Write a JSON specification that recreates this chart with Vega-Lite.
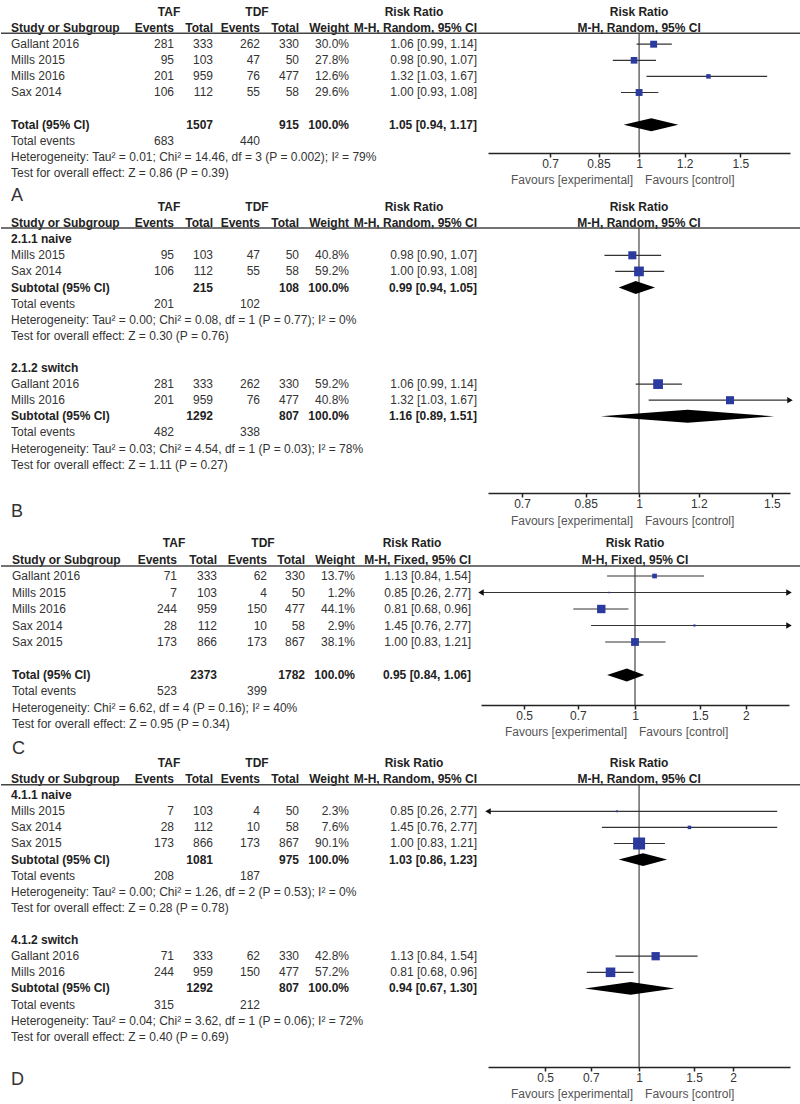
{
"$schema":"https://vega.github.io/schema/vega-lite/v6.json",
"padding":0,
"spacing":0,
"bounds":"flush",
"config":{"view":{"stroke":null},"text":{"font":"Liberation Sans","fontSize":12,"baseline":"middle"},"axis":{"labelFont":"Liberation Sans"}},
"datasets":{
"A":[
{"row":0,"kind":"group","taf":"TAF","tdf":"TDF","rrh":"Risk Ratio","plot":"Risk Ratio"},
{"row":1,"kind":"header","label":"Study or Subgroup","tafE":"Events","tafT":"Total","tdfE":"Events","tdfT":"Total","weight":"Weight","ci":"M-H, Random, 95% CI","plot":"M-H, Random, 95% CI"},
{"row":2,"kind":"study","label":"Gallant 2016","tafE":281,"tafT":333,"tdfE":262,"tdfT":330,"weight":"30.0%","w":30.0,"ci":"1.06 [0.99, 1.14]","rr":1.06,"lo":0.99,"hi":1.14},
{"row":3,"kind":"study","label":"Mills 2015","tafE":95,"tafT":103,"tdfE":47,"tdfT":50,"weight":"27.8%","w":27.8,"ci":"0.98 [0.90, 1.07]","rr":0.98,"lo":0.90,"hi":1.07},
{"row":4,"kind":"study","label":"Mills 2016","tafE":201,"tafT":959,"tdfE":76,"tdfT":477,"weight":"12.6%","w":12.6,"ci":"1.32 [1.03, 1.67]","rr":1.32,"lo":1.03,"hi":1.67},
{"row":5,"kind":"study","label":"Sax 2014","tafE":106,"tafT":112,"tdfE":55,"tdfT":58,"weight":"29.6%","w":29.6,"ci":"1.00 [0.93, 1.08]","rr":1.00,"lo":0.93,"hi":1.08},
{"row":7,"kind":"total","label":"Total (95% CI)","tafT":1507,"tdfT":915,"weight":"100.0%","w":100,"ci":"1.05 [0.94, 1.17]","rr":1.05,"lo":0.94,"hi":1.17},
{"row":8,"kind":"events","label":"Total events","tafE":683,"tdfE":440},
{"row":9,"kind":"note","label":"Heterogeneity: Tau² = 0.01; Chi² = 14.46, df = 3 (P = 0.002); I² = 79%"},
{"row":10,"kind":"note","label":"Test for overall effect: Z = 0.86 (P = 0.39)"}
],
"B":[
{"row":0,"kind":"group","taf":"TAF","tdf":"TDF","rrh":"Risk Ratio","plot":"Risk Ratio"},
{"row":1,"kind":"header","label":"Study or Subgroup","tafE":"Events","tafT":"Total","tdfE":"Events","tdfT":"Total","weight":"Weight","ci":"M-H, Random, 95% CI","plot":"M-H, Random, 95% CI"},
{"row":2,"kind":"subgroup","label":"2.1.1 naive"},
{"row":3,"kind":"study","label":"Mills 2015","tafE":95,"tafT":103,"tdfE":47,"tdfT":50,"weight":"40.8%","w":40.8,"ci":"0.98 [0.90, 1.07]","rr":0.98,"lo":0.90,"hi":1.07},
{"row":4,"kind":"study","label":"Sax 2014","tafE":106,"tafT":112,"tdfE":55,"tdfT":58,"weight":"59.2%","w":59.2,"ci":"1.00 [0.93, 1.08]","rr":1.00,"lo":0.93,"hi":1.08},
{"row":5,"kind":"total","label":"Subtotal (95% CI)","tafT":215,"tdfT":108,"weight":"100.0%","w":100,"ci":"0.99 [0.94, 1.05]","rr":0.99,"lo":0.94,"hi":1.05},
{"row":6,"kind":"events","label":"Total events","tafE":201,"tdfE":102},
{"row":7,"kind":"note","label":"Heterogeneity: Tau² = 0.00; Chi² = 0.08, df = 1 (P = 0.77); I² = 0%"},
{"row":8,"kind":"note","label":"Test for overall effect: Z = 0.30 (P = 0.76)"},
{"row":10,"kind":"subgroup","label":"2.1.2 switch"},
{"row":11,"kind":"study","label":"Gallant 2016","tafE":281,"tafT":333,"tdfE":262,"tdfT":330,"weight":"59.2%","w":59.2,"ci":"1.06 [0.99, 1.14]","rr":1.06,"lo":0.99,"hi":1.14},
{"row":12,"kind":"study","label":"Mills 2016","tafE":201,"tafT":959,"tdfE":76,"tdfT":477,"weight":"40.8%","w":40.8,"ci":"1.32 [1.03, 1.67]","rr":1.32,"lo":1.03,"hi":1.67},
{"row":13,"kind":"total","label":"Subtotal (95% CI)","tafT":1292,"tdfT":807,"weight":"100.0%","w":100,"ci":"1.16 [0.89, 1.51]","rr":1.16,"lo":0.89,"hi":1.51},
{"row":14,"kind":"events","label":"Total events","tafE":482,"tdfE":338},
{"row":15,"kind":"note","label":"Heterogeneity: Tau² = 0.03; Chi² = 4.54, df = 1 (P = 0.03); I² = 78%"},
{"row":16,"kind":"note","label":"Test for overall effect: Z = 1.11 (P = 0.27)"}
],
"C":[
{"row":0,"kind":"group","taf":"TAF","tdf":"TDF","rrh":"Risk Ratio","plot":"Risk Ratio"},
{"row":1,"kind":"header","label":"Study or Subgroup","tafE":"Events","tafT":"Total","tdfE":"Events","tdfT":"Total","weight":"Weight","ci":"M-H, Fixed, 95% CI","plot":"M-H, Fixed, 95% CI"},
{"row":2,"kind":"study","label":"Gallant 2016","tafE":71,"tafT":333,"tdfE":62,"tdfT":330,"weight":"13.7%","w":13.7,"ci":"1.13 [0.84, 1.54]","rr":1.13,"lo":0.84,"hi":1.54},
{"row":3,"kind":"study","label":"Mills 2015","tafE":7,"tafT":103,"tdfE":4,"tdfT":50,"weight":"1.2%","w":1.2,"ci":"0.85 [0.26, 2.77]","rr":0.85,"lo":0.26,"hi":2.77},
{"row":4,"kind":"study","label":"Mills 2016","tafE":244,"tafT":959,"tdfE":150,"tdfT":477,"weight":"44.1%","w":44.1,"ci":"0.81 [0.68, 0.96]","rr":0.81,"lo":0.68,"hi":0.96},
{"row":5,"kind":"study","label":"Sax 2014","tafE":28,"tafT":112,"tdfE":10,"tdfT":58,"weight":"2.9%","w":2.9,"ci":"1.45 [0.76, 2.77]","rr":1.45,"lo":0.76,"hi":2.77},
{"row":6,"kind":"study","label":"Sax 2015","tafE":173,"tafT":866,"tdfE":173,"tdfT":867,"weight":"38.1%","w":38.1,"ci":"1.00 [0.83, 1.21]","rr":1.00,"lo":0.83,"hi":1.21},
{"row":8,"kind":"total","label":"Total (95% CI)","tafT":2373,"tdfT":1782,"weight":"100.0%","w":100,"ci":"0.95 [0.84, 1.06]","rr":0.95,"lo":0.84,"hi":1.06},
{"row":9,"kind":"events","label":"Total events","tafE":523,"tdfE":399},
{"row":10,"kind":"note","label":"Heterogeneity: Chi² = 6.62, df = 4 (P = 0.16); I² = 40%"},
{"row":11,"kind":"note","label":"Test for overall effect: Z = 0.95 (P = 0.34)"}
],
"D":[
{"row":0,"kind":"group","taf":"TAF","tdf":"TDF","rrh":"Risk Ratio","plot":"Risk Ratio"},
{"row":1,"kind":"header","label":"Study or Subgroup","tafE":"Events","tafT":"Total","tdfE":"Events","tdfT":"Total","weight":"Weight","ci":"M-H, Random, 95% CI","plot":"M-H, Random, 95% CI"},
{"row":2,"kind":"subgroup","label":"4.1.1 naive"},
{"row":3,"kind":"study","label":"Mills 2015","tafE":7,"tafT":103,"tdfE":4,"tdfT":50,"weight":"2.3%","w":2.3,"ci":"0.85 [0.26, 2.77]","rr":0.85,"lo":0.26,"hi":2.77},
{"row":4,"kind":"study","label":"Sax 2014","tafE":28,"tafT":112,"tdfE":10,"tdfT":58,"weight":"7.6%","w":7.6,"ci":"1.45 [0.76, 2.77]","rr":1.45,"lo":0.76,"hi":2.77},
{"row":5,"kind":"study","label":"Sax 2015","tafE":173,"tafT":866,"tdfE":173,"tdfT":867,"weight":"90.1%","w":90.1,"ci":"1.00 [0.83, 1.21]","rr":1.00,"lo":0.83,"hi":1.21},
{"row":6,"kind":"total","label":"Subtotal (95% CI)","tafT":1081,"tdfT":975,"weight":"100.0%","w":100,"ci":"1.03 [0.86, 1.23]","rr":1.03,"lo":0.86,"hi":1.23},
{"row":7,"kind":"events","label":"Total events","tafE":208,"tdfE":187},
{"row":8,"kind":"note","label":"Heterogeneity: Tau² = 0.00; Chi² = 1.26, df = 2 (P = 0.53); I² = 0%"},
{"row":9,"kind":"note","label":"Test for overall effect: Z = 0.28 (P = 0.78)"},
{"row":11,"kind":"subgroup","label":"4.1.2 switch"},
{"row":12,"kind":"study","label":"Gallant 2016","tafE":71,"tafT":333,"tdfE":62,"tdfT":330,"weight":"42.8%","w":42.8,"ci":"1.13 [0.84, 1.54]","rr":1.13,"lo":0.84,"hi":1.54},
{"row":13,"kind":"study","label":"Mills 2016","tafE":244,"tafT":959,"tdfE":150,"tdfT":477,"weight":"57.2%","w":57.2,"ci":"0.81 [0.68, 0.96]","rr":0.81,"lo":0.68,"hi":0.96},
{"row":14,"kind":"total","label":"Subtotal (95% CI)","tafT":1292,"tdfT":807,"weight":"100.0%","w":100,"ci":"0.94 [0.67, 1.30]","rr":0.94,"lo":0.67,"hi":1.30},
{"row":15,"kind":"events","label":"Total events","tafE":315,"tdfE":212},
{"row":16,"kind":"note","label":"Heterogeneity: Tau² = 0.04; Chi² = 3.62, df = 1 (P = 0.06); I² = 72%"},
{"row":17,"kind":"note","label":"Test for overall effect: Z = 0.40 (P = 0.69)"}
]
},
"vconcat":[
{
"width":800,"height":200,
"data":{"name":"A"},
"resolve":{"scale":{"x":"independent"}},
"layer":[
{"transform":[{"fold":["label","tafE","tafT","tdfE","tdfT","weight","ci"],"as":["key","val"]},{"filter":"isValid(datum.val)"},{"calculate":"indexof(['label','tafE','tafT','tdfE','tdfT','weight','ci'],datum.key)","as":"col"},{"calculate":"indexof(['header','total','subgroup'],datum.kind)>=0","as":"bold"}],
"encoding":{"x":{"field":"col","type":"quantitative","scale":{"domain":[0,1,2,3,4,5,6],"range":[10,173,212,259,298,348,476],"nice":false,"zero":false},"axis":null},"y":{"field":"row","type":"quantitative","scale":{"domain":[-0.745,11.677],"reverse":true,"nice":false,"zero":false},"axis":null},"text":{"field":"val","type":"nominal"}},
"layer":[
{"transform":[{"filter":"datum.col==0 && !datum.bold"}],"mark":{"type":"text","align":"left","color":"#333"}},
{"transform":[{"filter":"datum.col==0 && datum.bold"}],"mark":{"type":"text","align":"left","fontWeight":"bold","color":"#222"}},
{"transform":[{"filter":"datum.col>0 && !datum.bold"}],"mark":{"type":"text","align":"right","color":"#333"}},
{"transform":[{"filter":"datum.col>0 && datum.bold"}],"mark":{"type":"text","align":"right","fontWeight":"bold","color":"#222"}}
]},
{"transform":[{"fold":["taf","tdf","rrh"],"as":["key","val"]},{"filter":"isValid(datum.val)"},{"calculate":"indexof(['taf','tdf','rrh'],datum.key)","as":"g"}],
"mark":{"type":"text","align":"center","fontWeight":"bold","color":"#222"},
"encoding":{"x":{"field":"g","type":"quantitative","scale":{"domain":[0,1,2],"range":[168,256,413],"nice":false,"zero":false},"axis":null},"y":{"field":"row","type":"quantitative","scale":{"domain":[-0.745,11.677],"reverse":true,"nice":false,"zero":false},"axis":null},"text":{"field":"val","type":"nominal"}}},
{"data":{"values":[{"t":"A"}]},"mark":{"type":"text","align":"left","fontSize":18,"color":"#333"},
"encoding":{"x":{"datum":0,"type":"quantitative","scale":{"domain":[0,1,2,3,4,5,6],"range":[10,173,212,259,298,348,476],"nice":false,"zero":false},"axis":null},"y":{"datum":11.45,"type":"quantitative","axis":null},"text":{"field":"t","type":"nominal"}}},
{"data":{"values":[{}]},"mark":{"type":"rule","color":"#444","strokeWidth":1.6},"encoding":{"y":{"datum":1.32,"type":"quantitative","axis":null}}},
{"data":{"values":[{}]},"mark":{"type":"rule","color":"#444","strokeWidth":1.2},
"encoding":{"x":{"datum":1,"type":"quantitative","scale":{"type":"log","domain":[0.546,1.83],"range":[487,789],"clamp":true,"nice":false},"axis":null},"y":{"datum":1.32,"type":"quantitative","axis":null},"y2":{"datum":8.76}}},
{"transform":[{"filter":"datum.kind=='study'"}],"mark":{"type":"rule","color":"#333","strokeWidth":1.2},
"encoding":{"x":{"field":"lo","type":"quantitative","scale":{"type":"log","domain":[0.546,1.83],"range":[487,789],"clamp":true,"nice":false},
"axis":{"orient":"bottom","values":[0.7,0.85,1,1.2,1.5],"format":"~g","title":null,"grid":false,"offset":-47,"domainColor":"#222","domainWidth":1.5,"tickColor":"#222","tickWidth":1.5,"tickSize":4,"labelFontSize":12,"labelColor":"#333","labelPadding":1,"labelFlush":false,"labelOverlap":false}},
"x2":{"field":"hi"},"y":{"field":"row","type":"quantitative","scale":{"domain":[-0.745,11.677],"reverse":true,"nice":false,"zero":false},"axis":null}}},
{"transform":[{"filter":"datum.kind=='study'"}],"mark":{"type":"point","shape":"square","filled":true,"opacity":1,"color":"#2a3a9e"},
"encoding":{"x":{"field":"rr","type":"quantitative","scale":{"type":"log","domain":[0.546,1.83],"range":[487,789],"clamp":true,"nice":false},"axis":null},"y":{"field":"row","type":"quantitative","scale":{"domain":[-0.745,11.677],"reverse":true,"nice":false,"zero":false},"axis":null},"size":{"field":"w","type":"quantitative","scale":{"domain":[0,100],"range":[0,160]},"legend":null}}},
{"transform":[{"filter":"datum.kind=='total'"},{"fold":["lo","rr","hi"],"as":["pt","xv"]},{"calculate":"datum.pt=='rr' ? 0.4 : 0","as":"h"},{"calculate":"datum.row - datum.h","as":"ya"},{"calculate":"datum.row + datum.h","as":"yb"}],
"mark":{"type":"area","color":"#000","orient":"vertical","interpolate":"linear","opacity":1},
"encoding":{"x":{"field":"xv","type":"quantitative","scale":{"type":"log","domain":[0.546,1.83],"range":[487,789],"clamp":true,"nice":false},"axis":null},"y":{"field":"ya","type":"quantitative","axis":null},"y2":{"field":"yb"},"detail":{"field":"row","type":"nominal"}}},
{"transform":[{"filter":"isValid(datum.plot)"}],"mark":{"type":"text","align":"center","fontWeight":"bold","color":"#222"},
"encoding":{"x":{"datum":1,"type":"quantitative","scale":{"type":"log","domain":[0.546,1.83],"range":[487,789],"clamp":true,"nice":false},"axis":null},"y":{"field":"row","type":"quantitative","scale":{"domain":[-0.745,11.677],"reverse":true,"nice":false,"zero":false},"axis":null},"text":{"field":"plot","type":"nominal"}}},
{"data":{"values":[{"t":"Favours [experimental]"}]},"mark":{"type":"text","align":"right","dx":-6,"color":"#555"},
"encoding":{"x":{"datum":1,"type":"quantitative","scale":{"type":"log","domain":[0.546,1.83],"range":[487,789],"clamp":true,"nice":false},"axis":null},"y":{"datum":10.43,"type":"quantitative","axis":null},"text":{"field":"t","type":"nominal"}}},
{"data":{"values":[{"t":"Favours [control]"}]},"mark":{"type":"text","align":"left","dx":6,"color":"#555"},
"encoding":{"x":{"datum":1,"type":"quantitative","scale":{"type":"log","domain":[0.546,1.83],"range":[487,789],"clamp":true,"nice":false},"axis":null},"y":{"datum":10.43,"type":"quantitative","axis":null},"text":{"field":"t","type":"nominal"}}}
]
},
{
"width":800,"height":332,
"data":{"name":"B"},
"resolve":{"scale":{"x":"independent"}},
"layer":[
{"transform":[{"fold":["label","tafE","tafT","tdfE","tdfT","weight","ci"],"as":["key","val"]},{"filter":"isValid(datum.val)"},{"calculate":"indexof(['label','tafE','tafT','tdfE','tdfT','weight','ci'],datum.key)","as":"col"},{"calculate":"indexof(['header','total','subgroup'],datum.kind)>=0","as":"bold"}],
"encoding":{"x":{"field":"col","type":"quantitative","scale":{"domain":[0,1,2,3,4,5,6],"range":[10,173,212,259,298,348,476],"nice":false,"zero":false},"axis":null},"y":{"field":"row","type":"quantitative","scale":{"domain":[-0.435,20.186],"reverse":true,"nice":false,"zero":false},"axis":null},"text":{"field":"val","type":"nominal"}},
"layer":[
{"transform":[{"filter":"datum.col==0 && !datum.bold"}],"mark":{"type":"text","align":"left","color":"#333"}},
{"transform":[{"filter":"datum.col==0 && datum.bold"}],"mark":{"type":"text","align":"left","fontWeight":"bold","color":"#222"}},
{"transform":[{"filter":"datum.col>0 && !datum.bold"}],"mark":{"type":"text","align":"right","color":"#333"}},
{"transform":[{"filter":"datum.col>0 && datum.bold"}],"mark":{"type":"text","align":"right","fontWeight":"bold","color":"#222"}}
]},
{"transform":[{"fold":["taf","tdf","rrh"],"as":["key","val"]},{"filter":"isValid(datum.val)"},{"calculate":"indexof(['taf','tdf','rrh'],datum.key)","as":"g"}],
"mark":{"type":"text","align":"center","fontWeight":"bold","color":"#222"},
"encoding":{"x":{"field":"g","type":"quantitative","scale":{"domain":[0,1,2],"range":[168,256,413],"nice":false,"zero":false},"axis":null},"y":{"field":"row","type":"quantitative","scale":{"domain":[-0.435,20.186],"reverse":true,"nice":false,"zero":false},"axis":null},"text":{"field":"val","type":"nominal"}}},
{"data":{"values":[{"t":"B"}]},"mark":{"type":"text","align":"left","fontSize":18,"color":"#333"},
"encoding":{"x":{"datum":0,"type":"quantitative","scale":{"domain":[0,1,2,3,4,5,6],"range":[10,173,212,259,298,348,476],"nice":false,"zero":false},"axis":null},"y":{"datum":18.94,"type":"quantitative","axis":null},"text":{"field":"t","type":"nominal"}}},
{"data":{"values":[{}]},"mark":{"type":"rule","color":"#444","strokeWidth":1.6},"encoding":{"y":{"datum":1.30,"type":"quantitative","axis":null}}},
{"data":{"values":[{}]},"mark":{"type":"rule","color":"#444","strokeWidth":1.2},
"encoding":{"x":{"datum":1,"type":"quantitative","scale":{"type":"log","domain":[0.631,1.585],"range":[487,789],"clamp":true,"nice":false},"axis":null},"y":{"datum":1.30,"type":"quantitative","axis":null},"y2":{"datum":17.76}}},
{"transform":[{"filter":"datum.kind=='study'"}],"mark":{"type":"rule","color":"#333","strokeWidth":1.2},
"encoding":{"x":{"field":"lo","type":"quantitative","scale":{"type":"log","domain":[0.631,1.585],"range":[487,789],"clamp":true,"nice":false},
"axis":{"orient":"bottom","values":[0.7,0.85,1,1.2,1.5],"format":"~g","title":null,"grid":false,"offset":-39,"domainColor":"#222","domainWidth":1.5,"tickColor":"#222","tickWidth":1.5,"tickSize":4,"labelFontSize":12,"labelColor":"#333","labelPadding":1,"labelFlush":false,"labelOverlap":false}},
"x2":{"field":"hi"},"y":{"field":"row","type":"quantitative","scale":{"domain":[-0.435,20.186],"reverse":true,"nice":false,"zero":false},"axis":null}}},
{"transform":[{"filter":"datum.kind=='study'"}],"mark":{"type":"point","shape":"square","filled":true,"opacity":1,"color":"#2a3a9e"},
"encoding":{"x":{"field":"rr","type":"quantitative","scale":{"type":"log","domain":[0.631,1.585],"range":[487,789],"clamp":true,"nice":false},"axis":null},"y":{"field":"row","type":"quantitative","scale":{"domain":[-0.435,20.186],"reverse":true,"nice":false,"zero":false},"axis":null},"size":{"field":"w","type":"quantitative","scale":{"domain":[0,100],"range":[0,230]},"legend":null}}},
{"transform":[{"filter":"datum.kind=='study' && datum.hi > 1.585"}],"mark":{"type":"point","shape":"triangle-right","filled":true,"opacity":1,"color":"#111","size":40},
"encoding":{"x":{"field":"hi","type":"quantitative","scale":{"type":"log","domain":[0.631,1.585],"range":[487,789],"clamp":true,"nice":false},"axis":null},"y":{"field":"row","type":"quantitative","scale":{"domain":[-0.435,20.186],"reverse":true,"nice":false,"zero":false},"axis":null}}},
{"transform":[{"filter":"datum.kind=='total'"},{"fold":["lo","rr","hi"],"as":["pt","xv"]},{"calculate":"datum.pt=='rr' ? 0.4 : 0","as":"h"},{"calculate":"datum.row - datum.h","as":"ya"},{"calculate":"datum.row + datum.h","as":"yb"}],
"mark":{"type":"area","color":"#000","orient":"vertical","interpolate":"linear","opacity":1},
"encoding":{"x":{"field":"xv","type":"quantitative","scale":{"type":"log","domain":[0.631,1.585],"range":[487,789],"clamp":true,"nice":false},"axis":null},"y":{"field":"ya","type":"quantitative","axis":null},"y2":{"field":"yb"},"detail":{"field":"row","type":"nominal"}}},
{"transform":[{"filter":"isValid(datum.plot)"}],"mark":{"type":"text","align":"center","fontWeight":"bold","color":"#222"},
"encoding":{"x":{"datum":1,"type":"quantitative","scale":{"type":"log","domain":[0.631,1.585],"range":[487,789],"clamp":true,"nice":false},"axis":null},"y":{"field":"row","type":"quantitative","scale":{"domain":[-0.435,20.186],"reverse":true,"nice":false,"zero":false},"axis":null},"text":{"field":"plot","type":"nominal"}}},
{"data":{"values":[{"t":"Favours [experimental]"}]},"mark":{"type":"text","align":"right","dx":-6,"color":"#555"},
"encoding":{"x":{"datum":1,"type":"quantitative","scale":{"type":"log","domain":[0.631,1.585],"range":[487,789],"clamp":true,"nice":false},"axis":null},"y":{"datum":19.5,"type":"quantitative","axis":null},"text":{"field":"t","type":"nominal"}}},
{"data":{"values":[{"t":"Favours [control]"}]},"mark":{"type":"text","align":"left","dx":6,"color":"#555"},
"encoding":{"x":{"datum":1,"type":"quantitative","scale":{"type":"log","domain":[0.631,1.585],"range":[487,789],"clamp":true,"nice":false},"axis":null},"y":{"datum":19.5,"type":"quantitative","axis":null},"text":{"field":"t","type":"nominal"}}}
]
},
{
"width":800,"height":220,
"data":{"name":"C"},
"resolve":{"scale":{"x":"independent"}},
"layer":[
{"transform":[{"fold":["label","tafE","tafT","tdfE","tdfT","weight","ci"],"as":["key","val"]},{"filter":"isValid(datum.val)"},{"calculate":"indexof(['label','tafE','tafT','tdfE','tdfT','weight','ci'],datum.key)","as":"col"},{"calculate":"indexof(['header','total','subgroup'],datum.kind)>=0","as":"bold"}],
"encoding":{"x":{"field":"col","type":"quantitative","scale":{"domain":[0,1,2,3,4,5,6],"range":[11,176,216,266,304,354,470],"nice":false,"zero":false},"axis":null},"y":{"field":"row","type":"quantitative","scale":{"domain":[-0.667,12.667],"reverse":true,"nice":false,"zero":false},"axis":null},"text":{"field":"val","type":"nominal"}},
"layer":[
{"transform":[{"filter":"datum.col==0 && !datum.bold"}],"mark":{"type":"text","align":"left","color":"#333"}},
{"transform":[{"filter":"datum.col==0 && datum.bold"}],"mark":{"type":"text","align":"left","fontWeight":"bold","color":"#222"}},
{"transform":[{"filter":"datum.col>0 && !datum.bold"}],"mark":{"type":"text","align":"right","color":"#333"}},
{"transform":[{"filter":"datum.col>0 && datum.bold"}],"mark":{"type":"text","align":"right","fontWeight":"bold","color":"#222"}}
]},
{"transform":[{"fold":["taf","tdf","rrh"],"as":["key","val"]},{"filter":"isValid(datum.val)"},{"calculate":"indexof(['taf','tdf','rrh'],datum.key)","as":"g"}],
"mark":{"type":"text","align":"center","fontWeight":"bold","color":"#222"},
"encoding":{"x":{"field":"g","type":"quantitative","scale":{"domain":[0,1,2],"range":[173,262,411],"nice":false,"zero":false},"axis":null},"y":{"field":"row","type":"quantitative","scale":{"domain":[-0.667,12.667],"reverse":true,"nice":false,"zero":false},"axis":null},"text":{"field":"val","type":"nominal"}}},
{"data":{"values":[{"t":"C"}]},"mark":{"type":"text","align":"left","fontSize":18,"color":"#333"},
"encoding":{"x":{"datum":0,"type":"quantitative","scale":{"domain":[0,1,2,3,4,5,6],"range":[11,176,216,266,304,354,470],"nice":false,"zero":false},"axis":null},"y":{"datum":12.5,"type":"quantitative","axis":null},"text":{"field":"t","type":"nominal"}}},
{"data":{"values":[{}]},"mark":{"type":"rule","color":"#444","strokeWidth":1.6},"encoding":{"y":{"datum":1.39,"type":"quantitative","axis":null}}},
{"data":{"values":[{}]},"mark":{"type":"rule","color":"#444","strokeWidth":1.2},
"encoding":{"x":{"datum":1,"type":"quantitative","scale":{"type":"log","domain":[0.382,2.618],"range":[480,788],"clamp":true,"nice":false},"axis":null},"y":{"datum":1.39,"type":"quantitative","axis":null},"y2":{"datum":9.82}}},
{"transform":[{"filter":"datum.kind=='study'"}],"mark":{"type":"rule","color":"#333","strokeWidth":1.2},
"encoding":{"x":{"field":"lo","type":"quantitative","scale":{"type":"log","domain":[0.382,2.618],"range":[480,788],"clamp":true,"nice":false},
"axis":{"orient":"bottom","values":[0.5,0.7,1,1.5,2],"format":"~g","title":null,"grid":false,"offset":-47,"domainColor":"#222","domainWidth":1.5,"tickColor":"#222","tickWidth":1.5,"tickSize":4,"labelFontSize":12,"labelColor":"#333","labelPadding":1,"labelFlush":false,"labelOverlap":false}},
"x2":{"field":"hi"},"y":{"field":"row","type":"quantitative","scale":{"domain":[-0.667,12.667],"reverse":true,"nice":false,"zero":false},"axis":null}}},
{"transform":[{"filter":"datum.kind=='study'"}],"mark":{"type":"point","shape":"square","filled":true,"opacity":1,"color":"#2a3a9e"},
"encoding":{"x":{"field":"rr","type":"quantitative","scale":{"type":"log","domain":[0.382,2.618],"range":[480,788],"clamp":true,"nice":false},"axis":null},"y":{"field":"row","type":"quantitative","scale":{"domain":[-0.667,12.667],"reverse":true,"nice":false,"zero":false},"axis":null},"size":{"field":"w","type":"quantitative","scale":{"domain":[0,100],"range":[0,165]},"legend":null}}},
{"transform":[{"filter":"datum.kind=='study' && datum.hi > 2.618"}],"mark":{"type":"point","shape":"triangle-right","filled":true,"opacity":1,"color":"#111","size":40},
"encoding":{"x":{"field":"hi","type":"quantitative","scale":{"type":"log","domain":[0.382,2.618],"range":[480,788],"clamp":true,"nice":false},"axis":null},"y":{"field":"row","type":"quantitative","scale":{"domain":[-0.667,12.667],"reverse":true,"nice":false,"zero":false},"axis":null}}},
{"transform":[{"filter":"datum.kind=='study' && datum.lo < 0.382"}],"mark":{"type":"point","shape":"triangle-left","filled":true,"opacity":1,"color":"#111","size":40},
"encoding":{"x":{"field":"lo","type":"quantitative","scale":{"type":"log","domain":[0.382,2.618],"range":[480,788],"clamp":true,"nice":false},"axis":null},"y":{"field":"row","type":"quantitative","scale":{"domain":[-0.667,12.667],"reverse":true,"nice":false,"zero":false},"axis":null}}},
{"transform":[{"filter":"datum.kind=='total'"},{"fold":["lo","rr","hi"],"as":["pt","xv"]},{"calculate":"datum.pt=='rr' ? 0.4 : 0","as":"h"},{"calculate":"datum.row - datum.h","as":"ya"},{"calculate":"datum.row + datum.h","as":"yb"}],
"mark":{"type":"area","color":"#000","orient":"vertical","interpolate":"linear","opacity":1},
"encoding":{"x":{"field":"xv","type":"quantitative","scale":{"type":"log","domain":[0.382,2.618],"range":[480,788],"clamp":true,"nice":false},"axis":null},"y":{"field":"ya","type":"quantitative","axis":null},"y2":{"field":"yb"},"detail":{"field":"row","type":"nominal"}}},
{"transform":[{"filter":"isValid(datum.plot)"}],"mark":{"type":"text","align":"center","fontWeight":"bold","color":"#222"},
"encoding":{"x":{"datum":1,"type":"quantitative","scale":{"type":"log","domain":[0.382,2.618],"range":[480,788],"clamp":true,"nice":false},"axis":null},"y":{"field":"row","type":"quantitative","scale":{"domain":[-0.667,12.667],"reverse":true,"nice":false,"zero":false},"axis":null},"text":{"field":"plot","type":"nominal"}}},
{"data":{"values":[{"t":"Favours [experimental]"}]},"mark":{"type":"text","align":"right","dx":-8,"color":"#555"},
"encoding":{"x":{"datum":1,"type":"quantitative","scale":{"type":"log","domain":[0.382,2.618],"range":[480,788],"clamp":true,"nice":false},"axis":null},"y":{"datum":11.45,"type":"quantitative","axis":null},"text":{"field":"t","type":"nominal"}}},
{"data":{"values":[{"t":"Favours [control]"}]},"mark":{"type":"text","align":"left","dx":4,"color":"#555"},
"encoding":{"x":{"datum":1,"type":"quantitative","scale":{"type":"log","domain":[0.382,2.618],"range":[480,788],"clamp":true,"nice":false},"axis":null},"y":{"datum":11.45,"type":"quantitative","axis":null},"text":{"field":"t","type":"nominal"}}}
]
},
{
"width":800,"height":352,
"data":{"name":"D"},
"resolve":{"scale":{"x":"independent"}},
"layer":[
{"transform":[{"fold":["label","tafE","tafT","tdfE","tdfT","weight","ci"],"as":["key","val"]},{"filter":"isValid(datum.val)"},{"calculate":"indexof(['label','tafE','tafT','tdfE','tdfT','weight','ci'],datum.key)","as":"col"},{"calculate":"indexof(['header','total','subgroup'],datum.kind)>=0","as":"bold"}],
"encoding":{"x":{"field":"col","type":"quantitative","scale":{"domain":[0,1,2,3,4,5,6],"range":[10,173,212,259,298,348,476],"nice":false,"zero":false},"axis":null},"y":{"field":"row","type":"quantitative","scale":{"domain":[-0.683,21.18],"reverse":true,"nice":false,"zero":false},"axis":null},"text":{"field":"val","type":"nominal"}},
"layer":[
{"transform":[{"filter":"datum.col==0 && !datum.bold"}],"mark":{"type":"text","align":"left","color":"#333"}},
{"transform":[{"filter":"datum.col==0 && datum.bold"}],"mark":{"type":"text","align":"left","fontWeight":"bold","color":"#222"}},
{"transform":[{"filter":"datum.col>0 && !datum.bold"}],"mark":{"type":"text","align":"right","color":"#333"}},
{"transform":[{"filter":"datum.col>0 && datum.bold"}],"mark":{"type":"text","align":"right","fontWeight":"bold","color":"#222"}}
]},
{"transform":[{"fold":["taf","tdf","rrh"],"as":["key","val"]},{"filter":"isValid(datum.val)"},{"calculate":"indexof(['taf','tdf','rrh'],datum.key)","as":"g"}],
"mark":{"type":"text","align":"center","fontWeight":"bold","color":"#222"},
"encoding":{"x":{"field":"g","type":"quantitative","scale":{"domain":[0,1,2],"range":[168,256,413],"nice":false,"zero":false},"axis":null},"y":{"field":"row","type":"quantitative","scale":{"domain":[-0.683,21.18],"reverse":true,"nice":false,"zero":false},"axis":null},"text":{"field":"val","type":"nominal"}}},
{"data":{"values":[{"t":"D"}]},"mark":{"type":"text","align":"left","fontSize":18,"color":"#333"},
"encoding":{"x":{"datum":0,"type":"quantitative","scale":{"domain":[0,1,2,3,4,5,6],"range":[10,173,212,259,298,348,476],"nice":false,"zero":false},"axis":null},"y":{"datum":19.69,"type":"quantitative","axis":null},"text":{"field":"t","type":"nominal"}}},
{"data":{"values":[{}]},"mark":{"type":"rule","color":"#444","strokeWidth":1.6},"encoding":{"y":{"datum":1.35,"type":"quantitative","axis":null}}},
{"data":{"values":[{}]},"mark":{"type":"rule","color":"#444","strokeWidth":1.2},
"encoding":{"x":{"datum":1,"type":"quantitative","scale":{"type":"log","domain":[0.328,3.045],"range":[487,789],"clamp":true,"nice":false},"axis":null},"y":{"datum":1.35,"type":"quantitative","axis":null},"y2":{"datum":18.88}}},
{"transform":[{"filter":"datum.kind=='study'"}],"mark":{"type":"rule","color":"#333","strokeWidth":1.2},
"encoding":{"x":{"field":"lo","type":"quantitative","scale":{"type":"log","domain":[0.328,3.045],"range":[487,789],"clamp":true,"nice":false},
"axis":{"orient":"bottom","values":[0.5,0.7,1,1.5,2],"format":"~g","title":null,"grid":false,"offset":-37,"domainColor":"#222","domainWidth":1.5,"tickColor":"#222","tickWidth":1.5,"tickSize":4,"labelFontSize":12,"labelColor":"#333","labelPadding":1,"labelFlush":false,"labelOverlap":false}},
"x2":{"field":"hi"},"y":{"field":"row","type":"quantitative","scale":{"domain":[-0.683,21.18],"reverse":true,"nice":false,"zero":false},"axis":null}}},
{"transform":[{"filter":"datum.kind=='study'"}],"mark":{"type":"point","shape":"square","filled":true,"opacity":1,"color":"#2a3a9e"},
"encoding":{"x":{"field":"rr","type":"quantitative","scale":{"type":"log","domain":[0.328,3.045],"range":[487,789],"clamp":true,"nice":false},"axis":null},"y":{"field":"row","type":"quantitative","scale":{"domain":[-0.683,21.18],"reverse":true,"nice":false,"zero":false},"axis":null},"size":{"field":"w","type":"quantitative","scale":{"domain":[0,100],"range":[0,220]},"legend":null}}},
{"transform":[{"filter":"datum.kind=='study' && datum.lo < 0.328"}],"mark":{"type":"point","shape":"triangle-left","filled":true,"opacity":1,"color":"#111","size":40},
"encoding":{"x":{"field":"lo","type":"quantitative","scale":{"type":"log","domain":[0.328,3.045],"range":[487,789],"clamp":true,"nice":false},"axis":null},"y":{"field":"row","type":"quantitative","scale":{"domain":[-0.683,21.18],"reverse":true,"nice":false,"zero":false},"axis":null}}},
{"transform":[{"filter":"datum.kind=='total'"},{"fold":["lo","rr","hi"],"as":["pt","xv"]},{"calculate":"datum.pt=='rr' ? 0.4 : 0","as":"h"},{"calculate":"datum.row - datum.h","as":"ya"},{"calculate":"datum.row + datum.h","as":"yb"}],
"mark":{"type":"area","color":"#000","orient":"vertical","interpolate":"linear","opacity":1},
"encoding":{"x":{"field":"xv","type":"quantitative","scale":{"type":"log","domain":[0.328,3.045],"range":[487,789],"clamp":true,"nice":false},"axis":null},"y":{"field":"ya","type":"quantitative","axis":null},"y2":{"field":"yb"},"detail":{"field":"row","type":"nominal"}}},
{"transform":[{"filter":"isValid(datum.plot)"}],"mark":{"type":"text","align":"center","fontWeight":"bold","color":"#222"},
"encoding":{"x":{"datum":1,"type":"quantitative","scale":{"type":"log","domain":[0.328,3.045],"range":[487,789],"clamp":true,"nice":false},"axis":null},"y":{"field":"row","type":"quantitative","scale":{"domain":[-0.683,21.18],"reverse":true,"nice":false,"zero":false},"axis":null},"text":{"field":"plot","type":"nominal"}}},
{"data":{"values":[{"t":"Favours [experimental]"}]},"mark":{"type":"text","align":"right","dx":-6,"color":"#555"},
"encoding":{"x":{"datum":1,"type":"quantitative","scale":{"type":"log","domain":[0.328,3.045],"range":[487,789],"clamp":true,"nice":false},"axis":null},"y":{"datum":20.55,"type":"quantitative","axis":null},"text":{"field":"t","type":"nominal"}}},
{"data":{"values":[{"t":"Favours [control]"}]},"mark":{"type":"text","align":"left","dx":6,"color":"#555"},
"encoding":{"x":{"datum":1,"type":"quantitative","scale":{"type":"log","domain":[0.328,3.045],"range":[487,789],"clamp":true,"nice":false},"axis":null},"y":{"datum":20.55,"type":"quantitative","axis":null},"text":{"field":"t","type":"nominal"}}}
]
}
]
}
